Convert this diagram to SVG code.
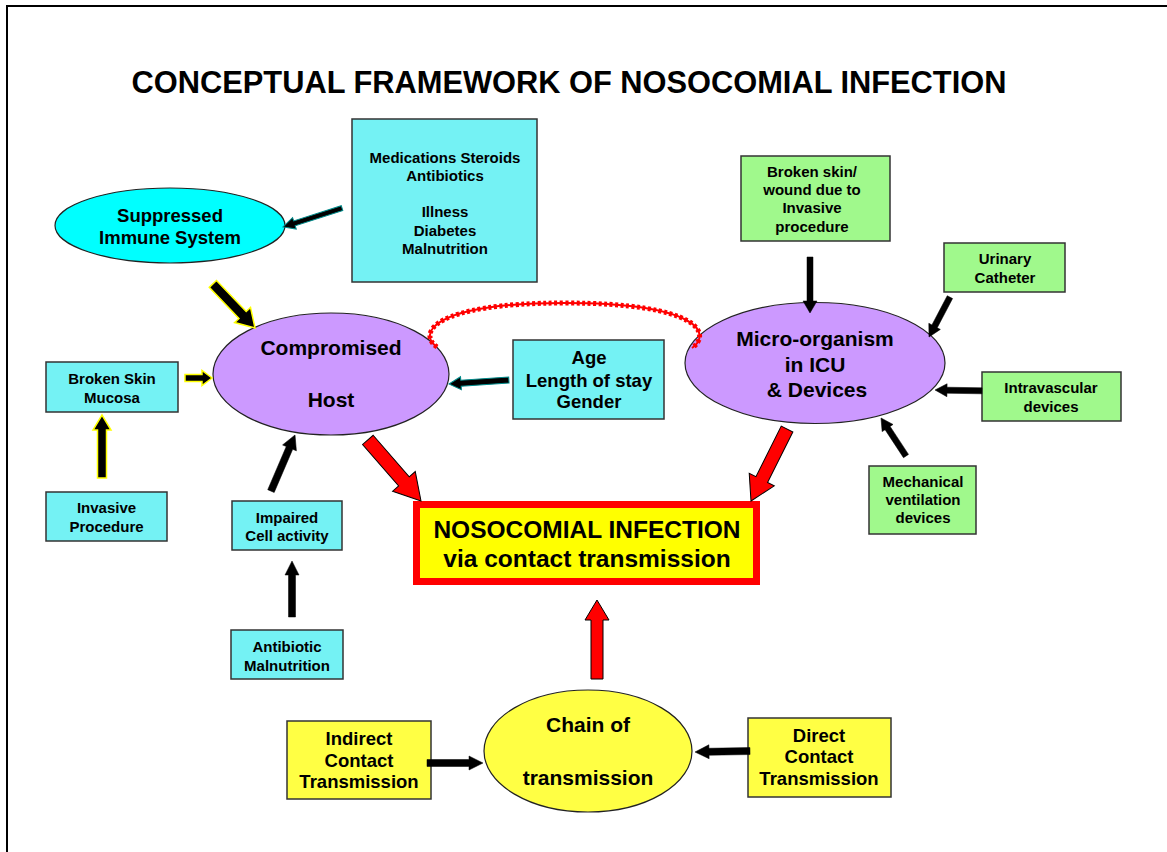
<svg xmlns="http://www.w3.org/2000/svg" width="1167" height="852" viewBox="0 0 1167 852">
<style>
text{font-family:"Liberation Sans",Arial,sans-serif;font-weight:bold;fill:#000;text-anchor:middle}
.t15{font-size:15px}
.t18{font-size:18.5px}
.t21{font-size:21px}
.box{stroke:#333;stroke-width:1.5}
.cy{fill:#74F2F4}
.gr{fill:#A0F98C}
.ye{fill:#FFFF44}
.ell{stroke:#222;stroke-width:1.2}
.ay{fill:#000;stroke:#FFFF00;stroke-width:1.5;stroke-linejoin:miter}
.at{fill:#000;stroke:#008B8B;stroke-width:1}
.ab{fill:#000;stroke:#000;stroke-width:0.5}
.ar{fill:#FF0000;stroke:#000;stroke-width:1}
</style>
<rect x="0" y="0" width="1167" height="852" fill="#fff"/>
<rect x="7" y="6" width="1200" height="900" fill="none" stroke="#000" stroke-width="2"/>
<text x="569" y="93" style="font-size:30.8px">CONCEPTUAL FRAMEWORK OF NOSOCOMIAL INFECTION</text>

<g id="suppressed">
  <ellipse class="ell" cx="170" cy="225.5" rx="115" ry="37.5" fill="#00FFFF"/>
  <text class="t18" x="170" y="222">Suppressed</text>
  <text class="t18" x="170" y="244">Immune System</text>
</g>
<g id="medications">
  <rect class="box cy" x="352" y="119" width="185" height="163"/>
  <text class="t15" x="445" y="163">Medications Steroids</text>
  <text class="t15" x="445" y="181">Antibiotics</text>
  <text class="t15" x="445" y="217">Illness</text>
  <text class="t15" x="445" y="236">Diabetes</text>
  <text class="t15" x="445" y="254">Malnutrition</text>
</g>
<g id="compromised">
  <ellipse class="ell" cx="331" cy="374" rx="118" ry="61" fill="#CC99FF"/>
  <text class="t21" x="331" y="355">Compromised</text>
  <text class="t21" x="331" y="407">Host</text>
</g>
<g id="age">
  <rect class="box cy" x="513" y="340" width="151" height="79"/>
  <text class="t18" x="589" y="364">Age</text>
  <text class="t18" x="589" y="387">Length of stay</text>
  <text class="t18" x="589" y="408">Gender</text>
</g>
<g id="microorganism">
  <ellipse class="ell" cx="815" cy="363" rx="130" ry="60.5" fill="#CC99FF"/>
  <text class="t21" x="815" y="346">Micro-organism</text>
  <text class="t21" x="815" y="372">in ICU</text>
  <text class="t21" x="817" y="397">&amp; Devices</text>
</g>
<g id="broken-skin">
  <rect class="box cy" x="46" y="362" width="132" height="50"/>
  <text class="t15" x="112" y="384">Broken Skin</text>
  <text class="t15" x="112" y="403">Mucosa</text>
</g>
<g id="invasive">
  <rect class="box cy" x="46" y="492" width="121" height="49"/>
  <text class="t15" x="106.5" y="513">Invasive</text>
  <text class="t15" x="106.5" y="532">Procedure</text>
</g>
<g id="impaired">
  <rect class="box cy" x="232" y="501" width="110" height="49"/>
  <text class="t15" x="287" y="523">Impaired</text>
  <text class="t15" x="287" y="541">Cell activity</text>
</g>
<g id="antibiotic">
  <rect class="box cy" x="231" y="630" width="112" height="49"/>
  <text class="t15" x="287" y="652">Antibiotic</text>
  <text class="t15" x="287" y="671">Malnutrition</text>
</g>
<g id="nosocomial">
  <rect x="416.5" y="504.5" width="340" height="77" fill="#FFFF00" stroke="#FF0000" stroke-width="7"/>
  <text x="587" y="538" style="font-size:24.5px">NOSOCOMIAL INFECTION</text>
  <text x="587" y="567" style="font-size:24.5px">via contact transmission</text>
</g>
<g id="wound">
  <rect class="box gr" x="741" y="156" width="149" height="85"/>
  <text class="t15" x="812" y="177">Broken skin/</text>
  <text class="t15" x="812" y="195">wound due to</text>
  <text class="t15" x="812" y="213">Invasive</text>
  <text class="t15" x="812" y="232">procedure</text>
</g>
<g id="urinary">
  <rect class="box gr" x="944" y="243" width="121" height="49"/>
  <text class="t15" x="1005" y="264">Urinary</text>
  <text class="t15" x="1005" y="283">Catheter</text>
</g>
<g id="intravascular">
  <rect class="box gr" x="982" y="372" width="139" height="49"/>
  <text class="t15" x="1051" y="393">Intravascular</text>
  <text class="t15" x="1051" y="412">devices</text>
</g>
<g id="mechanical">
  <rect class="box gr" x="869" y="466" width="107" height="68"/>
  <text class="t15" x="923" y="487">Mechanical</text>
  <text class="t15" x="923" y="505">ventilation</text>
  <text class="t15" x="923" y="523">devices</text>
</g>
<g id="chain">
  <ellipse class="ell" cx="588" cy="751" rx="104" ry="61" fill="#FFFF44"/>
  <text class="t21" x="588" y="732">Chain of</text>
  <text class="t21" x="588" y="785">transmission</text>
</g>
<g id="indirect">
  <rect class="box ye" x="287" y="721" width="144" height="78"/>
  <text class="t18" x="359" y="745">Indirect</text>
  <text class="t18" x="359" y="767">Contact</text>
  <text class="t18" x="359" y="788">Transmission</text>
</g>
<g id="direct">
  <rect class="box ye" x="748" y="718" width="143" height="79"/>
  <text class="t18" x="819" y="742">Direct</text>
  <text class="t18" x="819" y="763">Contact</text>
  <text class="t18" x="819" y="785">Transmission</text>
</g>

<g id="connectors">
  <path d="M437,347 C418,334 430,303 565,303 C700,303 712,334 692,348" fill="none" stroke="#FF0000" stroke-width="2"/>
  <path d="M437,347 C418,334 430,303 565,303 C700,303 712,334 692,348" fill="none" stroke="#FF0000" stroke-width="5" stroke-dasharray="3 2.5"/>
  <polygon class="ay" transform="translate(255,328) rotate(46.3)" points="-61,-5 -18,-5 -18,-11 0,0 -18,11 -18,5 -61,5"/>
  <polygon class="ay" transform="translate(212,378)" points="-27,-3.5 -10,-3.5 -10,-7.5 0,0 -10,7.5 -10,3.5 -27,3.5"/>
  <polygon class="ay" transform="translate(102,415) rotate(-90)" points="-63,-4.5 -15,-4.5 -15,-9 0,0 -15,9 -15,4.5 -63,4.5"/>
  <polygon class="at" transform="translate(283,227) rotate(162.2)" points="-62,-2.5 -12,-2.5 -12,-6 0,0 -12,6 -12,2.5 -62,2.5"/>
  <polygon class="at" transform="translate(449,384) rotate(176.2)" points="-60,-3 -12,-3 -12,-6.5 0,0 -12,6.5 -12,3 -60,3"/>
  <polygon class="ab" transform="translate(295,435) rotate(-66.8)" points="-61,-3.5 -14,-3.5 -14,-7.5 0,0 -14,7.5 -14,3.5 -61,3.5"/>
  <polygon class="ab" transform="translate(292,561) rotate(-90)" points="-56,-3.5 -14,-3.5 -14,-7 0,0 -14,7 -14,3.5 -56,3.5"/>
  <polygon class="ab" transform="translate(810,313) rotate(90)" points="-56,-3 -12,-3 -12,-7 0,0 -12,7 -12,3 -56,3"/>
  <polygon class="ab" transform="translate(929,337) rotate(117.7)" points="-45,-3 -12,-3 -12,-6.5 0,0 -12,6.5 -12,3 -45,3"/>
  <polygon class="ab" transform="translate(935,390) rotate(181)" points="-47,-3 -12,-3 -12,-6.5 0,0 -12,6.5 -12,3 -47,3"/>
  <polygon class="ab" transform="translate(881,418) rotate(-123.3)" points="-45.5,-3 -12,-3 -12,-6.5 0,0 -12,6.5 -12,3 -45.5,3"/>
  <polygon class="ab" transform="translate(483,763)" points="-56,-3.5 -14,-3.5 -14,-7 0,0 -14,7 -14,3.5 -56,3.5"/>
  <polygon class="ab" transform="translate(695,752) rotate(179)" points="-55,-3.5 -14,-3.5 -14,-7 0,0 -14,7 -14,3.5 -55,3.5"/>
  <polygon class="ar" transform="translate(421,501) rotate(49)" points="-81,-7 -26,-7 -26,-15 0,0 -26,15 -26,7 -81,7"/>
  <polygon class="ar" transform="translate(751,501) rotate(116.6)" points="-80.5,-6.5 -24,-6.5 -24,-14 0,0 -24,14 -24,6.5 -80.5,6.5"/>
  <polygon class="ar" transform="translate(597,600) rotate(-90)" points="-79,-6 -20,-6 -20,-12 0,0 -20,12 -20,6 -79,6"/>
</g>
</svg>
